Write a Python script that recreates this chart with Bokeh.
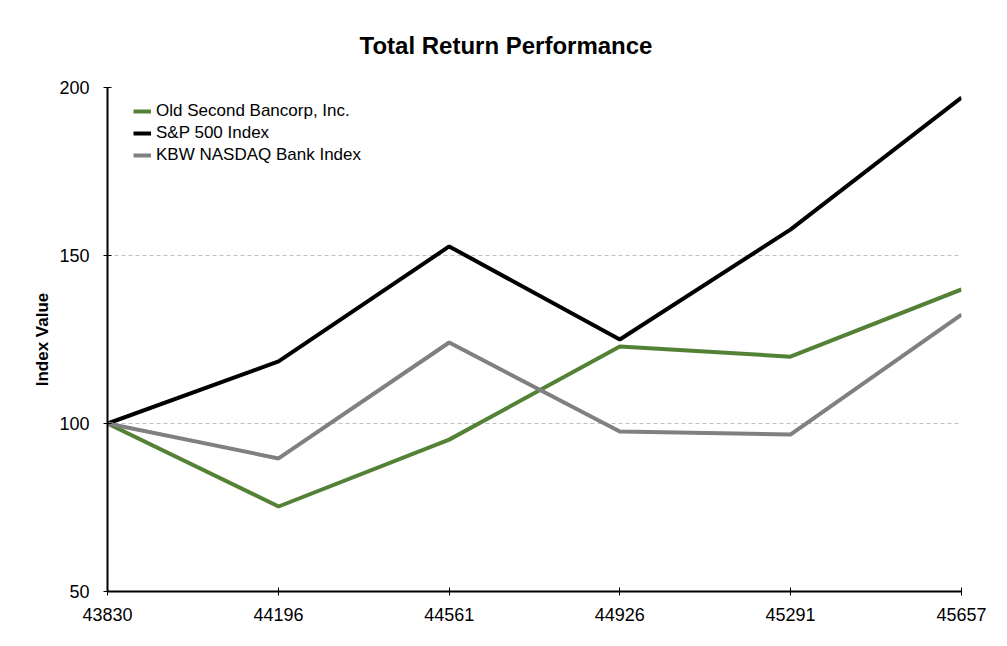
from bokeh.plotting import figure
from bokeh.models import Legend, LegendItem, FixedTicker, Range1d
from bokeh.embed import file_html
from bokeh.resources import INLINE

dates = [43830, 44196, 44561, 44926, 45291, 45657]
old_second = [100, 75.3, 95.2, 122.9, 119.9, 139.9]
sp500 = [100, 118.5, 152.7, 125.0, 157.7, 197.0]
kbw = [100, 89.6, 124.1, 97.6, 96.7, 132.4]
y_ticks = [50, 100, 150, 200]

FONT = "Liberation Sans"

p = figure(width=991, height=630, output_backend="svg", toolbar_location=None,
           x_range=Range1d(43830, 45657), y_range=Range1d(50, 200),
           min_border_left=107, min_border_right=30, min_border_top=87, min_border_bottom=39)

p.title.text = "Total Return Performance"
p.title.align = "left"
p.title.offset = 252
p.title.standoff = 57
p.title.text_font = FONT
p.title.text_font_size = "24px"
p.title.text_font_style = "bold"
p.title.text_color = "black"

r1 = p.line(dates, old_second, line_color="#538135", line_width=4)
r2 = p.line(dates, sp500, line_color="#000000", line_width=4)
r3 = p.line(dates, kbw, line_color="#808080", line_width=4)

p.outline_line_color = None
p.xgrid.grid_line_color = None
p.ygrid.grid_line_color = "#bfbfbf"
p.ygrid.grid_line_dash = "4 3"
p.ygrid.grid_line_width = 1

p.xaxis.ticker = FixedTicker(ticks=dates)
p.yaxis.ticker = FixedTicker(ticks=y_ticks)
for ax in (p.xaxis, p.yaxis):
    ax.axis_line_color = "black"
    ax.axis_line_width = 2
    ax.major_tick_line_color = "black"
    ax.major_tick_line_width = 1
    ax.major_tick_in = 4
    ax.major_tick_out = 4
    ax.minor_tick_line_color = None
    ax.major_label_text_font = FONT
    ax.major_label_text_font_size = "18px"
    ax.major_label_text_color = "black"

p.xaxis.major_label_standoff = 12
p.yaxis.major_label_standoff = 14
p.yaxis.axis_label = "Index Value"
p.yaxis.axis_label_text_font = FONT
p.yaxis.axis_label_text_font_size = "17px"
p.yaxis.axis_label_text_font_style = "bold"
p.yaxis.axis_label_text_color = "black"
p.yaxis.axis_label_standoff = 4

legend = Legend(items=[
    LegendItem(label="Old Second Bancorp, Inc.", renderers=[r1]),
    LegendItem(label="S&P 500 Index", renderers=[r2]),
    LegendItem(label="KBW NASDAQ Bank Index", renderers=[r3]),
], location=(26, 426))
legend.border_line_color = None
legend.background_fill_alpha = 0
legend.label_text_font = FONT
legend.label_text_font_size = "17px"
legend.label_text_color = "black"
legend.glyph_width = 18
legend.glyph_height = 16
legend.spacing = 2
legend.label_standoff = 5
legend.padding = 0
legend.margin = 0
legend.label_height = 18
p.add_layout(legend)

open("out.html", "w").write(file_html(p, INLINE))
